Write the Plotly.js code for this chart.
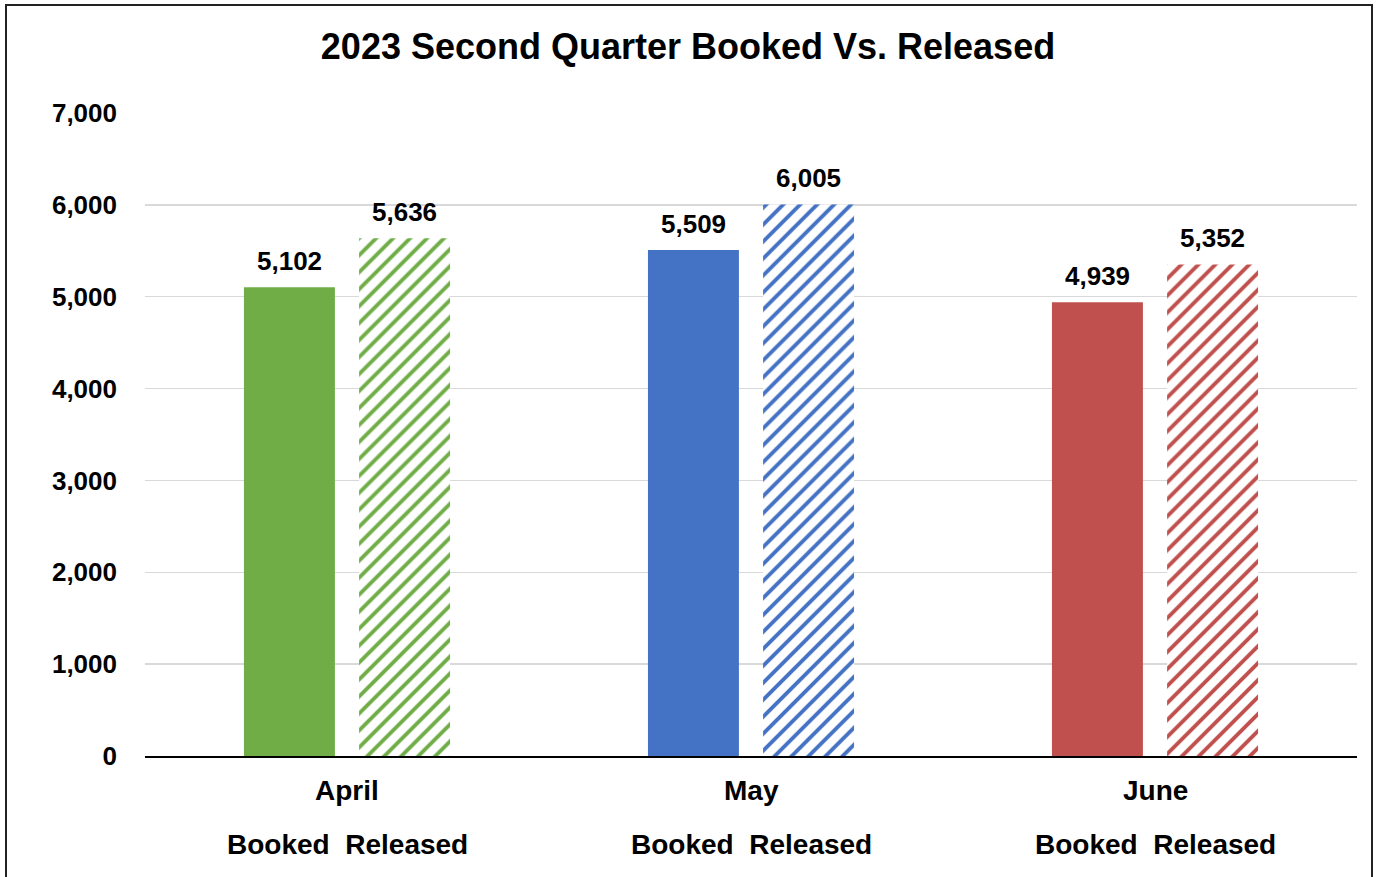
<!DOCTYPE html>
<html>
<head>
<meta charset="utf-8">
<script src="https://cdn.plot.ly/plotly-3.0.1.min.js"></script>
<style>
html,body{margin:0;padding:0;background:#fff;}
#chart{width:1376px;height:877px;}
#frame{position:absolute;left:5px;top:4px;width:1364px;height:900px;border:2px solid #222;pointer-events:none;}
</style>
</head>
<body>
<div id="chart"></div>
<div id="frame"></div>
<script>
const months = ["April", "May", "June"];
const booked = [5102, 5509, 4939];
const released = [5636, 6005, 5352];
const monthColors = ["#70AD47", "#4472C4", "#C0504D"];
const subLabel = "Booked  Released";
const yTicks = [0, 1000, 2000, 3000, 4000, 5000, 6000, 7000];

const FONT = "Liberation Sans, Arial, sans-serif";
const fmt = v => v.toLocaleString("en-US");

const traces = [
  {
    type: "bar", name: "Booked", x: months, y: booked,
    marker: {color: monthColors, line: {width: 0}},
    hoverinfo: "x+y"
  },
  {
    type: "bar", name: "Released", x: months, y: released,
    marker: {
      color: "#ffffff",
      line: {width: 0},
      pattern: {shape: "/", fgcolor: monthColors, bgcolor: "#ffffff", size: 12, solidity: 0.32, fillmode: "replace"}
    },
    hoverinfo: "x+y"
  }
];

const BAR_OFFSET = 57.5;
const annotations = [];
months.forEach((m, i) => {
  annotations.push({x: m, xref: "x", y: booked[i], yref: "y", xshift: -BAR_OFFSET, yshift: 9, yanchor: "bottom", text: "<b>" + fmt(booked[i]) + "</b>", showarrow: false, font: {family: FONT, size: 26, color: "#000"}});
  annotations.push({x: m, xref: "x", y: released[i], yref: "y", xshift: BAR_OFFSET, yshift: 9, yanchor: "bottom", text: "<b>" + fmt(released[i]) + "</b>", showarrow: false, font: {family: FONT, size: 26, color: "#000"}});
  annotations.push({x: m, xref: "x", y: -0.054, yref: "paper", text: "<b>" + m + "</b>", showarrow: false, font: {family: FONT, size: 28, color: "#000"}, yanchor: "middle"});
  annotations.push({x: m, xref: "x", y: -0.137, yref: "paper", text: "<b>" + subLabel + "</b>", showarrow: false, font: {family: FONT, size: 28, color: "#000"}, yanchor: "middle"});
});

const layout = {
  width: 1376, height: 877,
  margin: {l: 145, r: 19, t: 113, b: 121},
  paper_bgcolor: "#ffffff", plot_bgcolor: "#ffffff",
  title: {text: "<b>2023 Second Quarter Booked Vs. Released</b>", font: {family: FONT, size: 36, color: "#000"}, x: 0.5, xanchor: "center", y: 0.947, yanchor: "middle"},
  showlegend: false,
  barmode: "group", bargap: 0.43, bargroupgap: 0.21,
  xaxis: {showticklabels: false, showline: true, linecolor: "#000", linewidth: 1.5, ticks: "", showgrid: false, zeroline: false},
  yaxis: {range: [0, 7000], tickvals: yTicks, ticktext: yTicks.map(fmt), showgrid: true, gridcolor: "#d9d9d9", gridwidth: 1.5, zeroline: false, showline: false, ticks: "", ticklabelstandoff: 27, tickfont: {family: FONT, size: 26, color: "#000", weight: "bold"}},
  annotations: annotations
};

Plotly.newPlot("chart", traces, layout, {displayModeBar: false, staticPlot: true});
</script>
</body>
</html>
